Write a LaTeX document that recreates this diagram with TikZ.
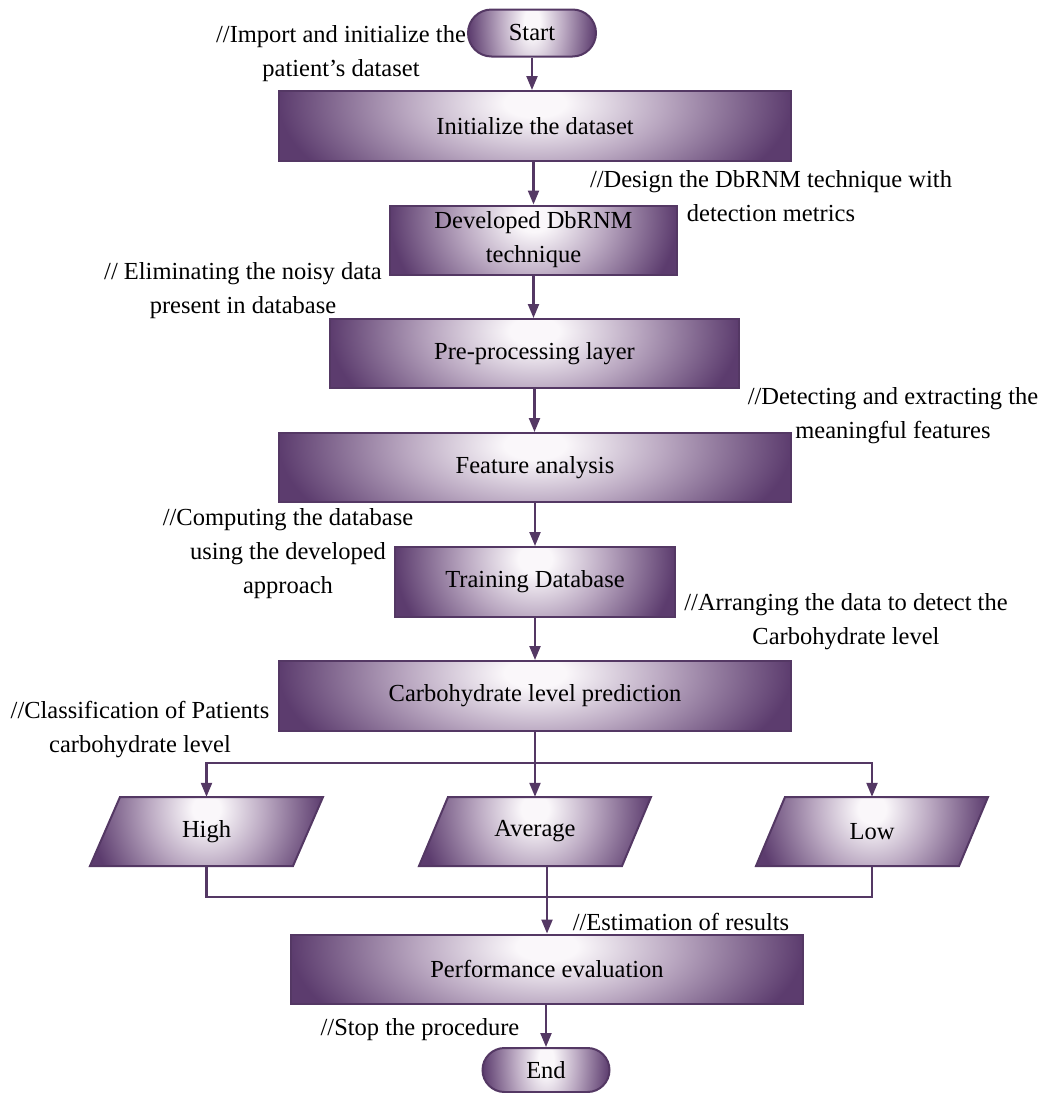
\documentclass[tikz,border=0pt]{standalone}
\usepackage{fontspec}
\setmainfont{Liberation Serif}
\usetikzlibrary{shapes.misc,arrows.meta,calc}
\definecolor{pdark}{RGB}{92,60,110}
\definecolor{pline}{RGB}{84,56,100}
\definecolor{pmid}{RGB}{186,168,193}
\definecolor{plight}{RGB}{250,247,250}
\pgfdeclareradialshading{glowrad}{\pgfpoint{0bp}{0bp}}{color(0bp)=(plight); color(3bp)=(plight); color(12.5bp)=(pmid); color(25bp)=(pdark); color(50bp)=(pdark)}
\tikzset{
  boxshade/.style={fill=pdark,
    path picture={
      \shade[shading=glowrad]
        ($(path picture bounding box.north west)+(0,-108)$) rectangle ($(path picture bounding box.north east)+(0,132)$);
    }},
  stepbox/.style={draw=pline, line width=2pt, boxshade, minimum width=512pt, minimum height=70pt, inner sep=0pt},
  termbox/.style={rounded rectangle, draw=pline, line width=2pt, boxshade, minimum width=128pt, minimum height=47pt, inner sep=0pt},
  ghost/.style={minimum width=203pt, minimum height=69pt, inner sep=0pt},
  note/.style={align=center, inner sep=0pt},
  conn/.style={draw=pline, line width=2.2pt},
  arr/.style={conn, -{Triangle[length=14pt,width=11pt]}},
}
\begin{document}
\begin{tikzpicture}[x=1pt,y=-1pt, every node/.style={font=\fontsize{24.5}{34}\selectfont}]
\useasboundingbox (0,0) rectangle (1039,1093);
% main flow
\node[termbox] (start) at (532,33) {Start};
\node[stepbox] (init) at (535,126) {Initialize the dataset};
\node[stepbox, minimum width=287pt, minimum height=69pt, align=center] (dev) at (533.5,240) {Developed DbRNM\\technique};
\node[stepbox, minimum width=409pt, minimum height=69pt] (pre) at (534.5,353.5) {Pre-processing layer};
\node[stepbox, minimum height=69pt] (feat) at (535,467.5) {Feature analysis};
\node[stepbox, minimum width=280pt] (train) at (535,582) {Training Database};
\node[stepbox] (carb) at (535,696) {Carbohydrate level prediction};
% parallelograms
\path[draw=pline, line width=2pt, boxshade] (90,866) -- (120,797) -- (323,797) -- (293,866) -- cycle;
\path[draw=pline, line width=2pt, boxshade] (419,866) -- (448,797) -- (651,797) -- (622,866) -- cycle;
\path[draw=pline, line width=2pt, boxshade] (756,866) -- (785,797) -- (988,797) -- (959,866) -- cycle;
\node[ghost] (high) at (206.5,831.5) {High};
\node[ghost] (avg) at (535,831.5) {Average};
\node[ghost] (low) at (872,831.5) {Low};
\node[stepbox, minimum height=69pt] (perf) at (547,969) {Performance evaluation};
\node[termbox, minimum width=127pt, minimum height=44pt] (end) at (546,1070) {End};
% comments
\node[note] (c1) at (341,54) {//Import and initialize the\\patient’s dataset};
\node[note] (c2) at (771,196) {//Design the DbRNM technique with\\detection metrics};
\node[note] (c3) at (243,291) {// Eliminating the noisy data\\present in database};
\node[note] (c4) at (893,416) {//Detecting and extracting the\\meaningful features};
\node[note] (c5) at (288,554) {//Computing the database\\using the developed\\approach};
\node[note] (c6) at (846,622) {//Arranging the data to detect the\\Carbohydrate level};
\node[note] (c7) at (140,730) {//Classification of Patients\\carbohydrate level};
\node[note] (c8) at (681,922) {//Estimation of results};
\node[note] (c9) at (420,1030) {//Stop the procedure};
% connectors
\draw[arr] (start.south) -- (start.south |- init.north);
\draw[arr] (init.south -| dev.north) -- (dev.north);
\draw[arr] (dev.south) -- (dev.south |- pre.north);
\draw[arr] (pre.south) -- (pre.south |- feat.north);
\draw[arr] (feat.south) -- (feat.south |- train.north);
\draw[arr] (train.south) -- (train.south |- carb.north);
\coordinate (bj) at (535,763);
\draw[conn] (carb.south) -- (bj);
\draw[arr] (bj) -| (high.north);
\draw[arr] (bj) -| (low.north);
\draw[arr] (bj) -- (avg.north);
\coordinate (mj) at (547,897);
\coordinate (avgout) at (547,866);
\draw[conn] (high.south) |- (mj);
\draw[conn] (low.south) |- (mj);
\draw[arr] (avgout) -- (perf.north);
\draw[arr] (perf.south -| end.north) -- (end.north);
\end{tikzpicture}
\end{document}
